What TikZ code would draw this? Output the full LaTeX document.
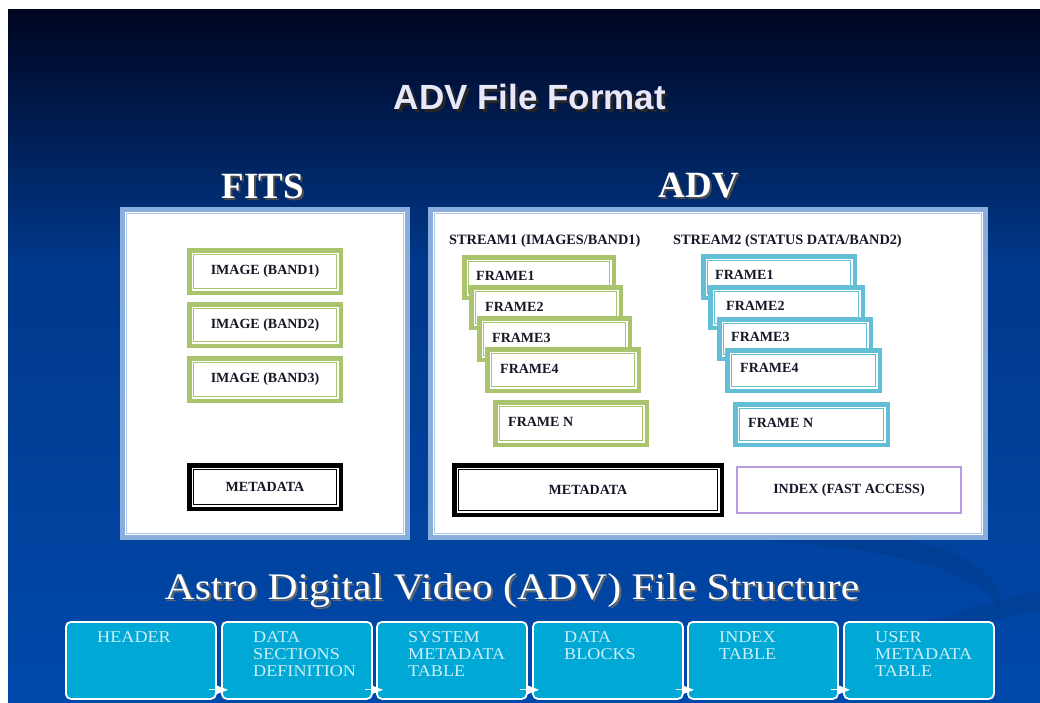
\documentclass[tikz,border=0pt]{standalone}
\usepackage{fontspec}
\setmainfont{Liberation Serif}
\newfontfamily\arialfont{Liberation Sans}
\newfontfamily\wideserif[FakeStretch=1.11]{Liberation Serif}
\newfontfamily\cellfont[FakeStretch=1.1]{Liberation Serif}
\usetikzlibrary{arrows.meta}
\definecolor{bgtop}{HTML}{000520}
\definecolor{bgmid}{HTML}{00388A}
\definecolor{bgbot}{HTML}{0049AB}
\definecolor{gborder}{HTML}{A9C46C}
\definecolor{bborder}{HTML}{62BFD6}
\definecolor{pborder}{HTML}{B89AE0}
\definecolor{panelb}{HTML}{8AAEDB}
\definecolor{cyanbox}{HTML}{00A9D5}
\definecolor{celltxt}{HTML}{CDEDF7}
\definecolor{inktxt}{HTML}{161626}
\definecolor{titletxt}{HTML}{E8E8FA}
% text with a drop shadow inside one node: shadow colour, dx, dy, text
\newcommand\shadowed[4]{\rlap{\hspace{#2}\raisebox{-#3}{\textcolor{#1}{#4}}}#4}
% double-lined box: name, x1, y1, x2, y2, outer width, colour
\newcommand\dblbox[7]{%
  \node[draw=#7, line width=#6pt, fill=white, inner sep=0pt, anchor=north west,
        minimum width={#4-#2-#6}, minimum height={#5-#3-#6}] (#1) at (#2,#3) {};
  \draw[#7, line width=1pt] ([shift={(#6+1.6,#6+1.6)}]#1.north west)
        rectangle ([shift={(-#6-1.6,-#6-1.6)}]#1.south east);
}
% panel: name, x1, y1, x2, y2
\newcommand\panelbox[5]{%
  \node[draw=panelb, line width=5pt, fill=white, inner sep=0pt, anchor=north west,
        minimum width={#4-#2-5}, minimum height={#5-#3-5}] (#1) at (#2,#3) {};
  \draw[white, line width=1pt] ([shift={(5.5,5.5)}]#1.north west)
        rectangle ([shift={(-5.5,-5.5)}]#1.south east);
  \draw[panelb!70, line width=.8pt] ([shift={(6.8,6.8)}]#1.north west)
        rectangle ([shift={(-6.8,-6.8)}]#1.south east);
}
\begin{document}
\begin{tikzpicture}[x=1pt,y=-1pt,
  boxtxt/.style={font=\bfseries\fontsize{14}{16}\selectfont, text=inktxt, inner sep=0pt},
  streamtxt/.style={font=\bfseries\fontsize{14.3}{16}\selectfont, text=inktxt, inner sep=0pt},
  headtxt/.style={font=\bfseries\fontsize{37}{40}\selectfont, text=white, inner sep=0pt},
  titlefont/.style={font=\arialfont\bfseries\fontsize{35}{40}\selectfont, inner sep=0pt},
  cell/.style={draw=white, line width=1.8pt, fill=cyanbox, rounded corners=5pt,
               minimum width=150pt, minimum height=77pt, inner sep=0pt, anchor=north west},
  celltext/.style={font=\cellfont\fontsize{16.5}{17}\selectfont, text=celltxt, align=left,
               inner sep=0pt, anchor=north west},
  flow/.style={white, line width=1pt, -{Triangle[length=12pt,width=9pt]}}]
\useasboundingbox (0,0) rectangle (1040,702);
% background
\fill[white] (0,0) rectangle (1040,702);
\shade[top color=bgtop, bottom color=bgmid] (8,9) rectangle (1040,261);
\shade[top color=bgmid, bottom color=bgbot] (8,260) rectangle (1040,702);
% faint swooshes
\fill[bgbot!75!black, opacity=.35] (760,540) .. controls (900,515) and (1010,560) .. (1000,610)
   .. controls (985,575) and (900,548) .. (760,540);
\fill[bgbot!75!black, opacity=.3] (850,645) .. controls (930,620) and (1000,600) .. (1040,590)
   -- (1040,610) .. controls (990,622) and (930,638) .. (850,645);
% titles
\node[titlefont, text=titletxt] (title) at (530,98) {\shadowed{black!85}{3pt}{3pt}{ADV File Format}};
\node[headtxt] (fitshead) at (263,187) {\shadowed{black!70}{2pt}{2pt}{FITS}};
\node[headtxt] (advhead) at (699,187) {\shadowed{black!70}{2pt}{2pt}{ADV}};
% panels
\panelbox{fitspanel}{120}{207}{410}{540}
\panelbox{advpanel}{428}{207}{988}{540}
% FITS content
\dblbox{fi1}{187}{248}{343}{295}{4.5}{gborder}
\node[boxtxt] (fi1t) at (fi1) {IMAGE (BAND1)};
\dblbox{fi2}{187}{302}{343}{348}{4.5}{gborder}
\node[boxtxt] (fi2t) at (fi2) {IMAGE (BAND2)};
\dblbox{fi3}{187}{356}{343}{403}{4.5}{gborder}
\node[boxtxt] (fi3t) at (fi3) {IMAGE (BAND3)};
\dblbox{fimeta}{187}{463}{343}{511}{4.5}{black}
\node[boxtxt] (fimetat) at (fimeta) {METADATA};
% ADV stream 1
\node[streamtxt, anchor=west] (s1lbl) at (449,241) {STREAM1 (IMAGES/BAND1)};
\dblbox{a1}{462}{255}{616}{300}{4.5}{gborder}
\node[boxtxt, anchor=west] (a1t) at (476,276) {FRAME1};
\dblbox{a2}{469}{285}{623}{330}{4.5}{gborder}
\node[boxtxt, anchor=west] (a2t) at (485,307) {FRAME2};
\dblbox{a3}{477}{316}{632}{362}{4.5}{gborder}
\node[boxtxt, anchor=west] (a3t) at (492,338) {FRAME3};
\dblbox{a4}{485}{347}{641}{393}{4.5}{gborder}
\node[boxtxt, anchor=west] (a4t) at (500,369) {FRAME4};
\dblbox{an}{493}{400}{649}{447}{4.5}{gborder}
\node[boxtxt, anchor=west] (ant) at (508,422) {FRAME N};
% ADV stream 2
\node[streamtxt, anchor=west] (s2lbl) at (673,241) {STREAM2 (STATUS DATA/BAND2)};
\dblbox{c1}{701}{254}{857}{300}{4.5}{bborder}
\node[boxtxt, anchor=west] (c1t) at (715,275) {FRAME1};
\dblbox{c2}{708}{285}{865}{330}{4.5}{bborder}
\node[boxtxt, anchor=west] (c2t) at (726,306) {FRAME2};
\dblbox{c3}{717}{317}{873}{361}{4.5}{bborder}
\node[boxtxt, anchor=west] (c3t) at (731,337) {FRAME3};
\dblbox{c4}{725}{348}{882}{393}{4.5}{bborder}
\node[boxtxt, anchor=west] (c4t) at (740,368) {FRAME4};
\dblbox{cn}{733}{402}{890}{447}{4.5}{bborder}
\node[boxtxt, anchor=west] (cnt) at (748,423) {FRAME N};
% ADV metadata and index
\dblbox{advmeta}{452}{463}{724}{517}{4.5}{black}
\node[boxtxt] (advmetat) at (advmeta) {METADATA};
\node[draw=pborder, line width=2pt, fill=white, inner sep=0pt, anchor=north west,
      minimum width=224pt, minimum height=46pt] (index) at (736,466) {};
\node[boxtxt] (indext) at (index) {INDEX (FAST ACCESS)};
% bottom title
\node[font=\wideserif\fontsize{37.5}{40}\selectfont, text=white, inner sep=0pt] (bottitle) at (512,592)
   {\shadowed{black!60}{2pt}{2pt}{Astro Digital Video (ADV) File Structure}};
% bottom structure cells
\node[cell] (b1) at (65,621) {};
\node[cell] (b2) at (221,621) {};
\node[cell] (b3) at (376,621) {};
\node[cell] (b4) at (532,621) {};
\node[cell] (b5) at (687,621) {};
\node[cell] (b6) at (843,621) {};
\node[celltext] (b1t) at ([shift={(32,10)}]b1.north west) {HEADER};
\node[celltext] (b2t) at ([shift={(32,10)}]b2.north west) {DATA\\SECTIONS\\DEFINITION};
\node[celltext] (b3t) at ([shift={(32,10)}]b3.north west) {SYSTEM\\METADATA\\TABLE};
\node[celltext] (b4t) at ([shift={(32,10)}]b4.north west) {DATA\\BLOCKS};
\node[celltext] (b5t) at ([shift={(32,10)}]b5.north west) {INDEX\\TABLE};
\node[celltext] (b6t) at ([shift={(32,10)}]b6.north west) {USER\\METADATA\\TABLE};
\draw[flow] ([shift={(-8,-10)}]b1.south east) -- ([shift={(7,-10)}]b2.south west);
\draw[flow] ([shift={(-8,-10)}]b2.south east) -- ([shift={(7,-10)}]b3.south west);
\draw[flow] ([shift={(-8,-10)}]b3.south east) -- ([shift={(7,-10)}]b4.south west);
\draw[flow] ([shift={(-8,-10)}]b4.south east) -- ([shift={(7,-10)}]b5.south west);
\draw[flow] ([shift={(-8,-10)}]b5.south east) -- ([shift={(7,-10)}]b6.south west);
\end{tikzpicture}
\end{document}
